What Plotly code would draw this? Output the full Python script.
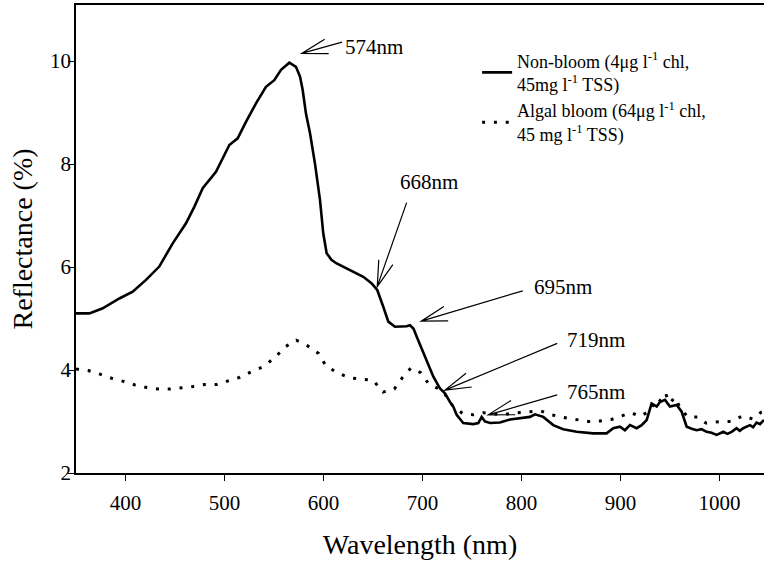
import numpy as np
import plotly.graph_objects as go

# ---------------- data ----------------
nonbloom_nm = [350, 363.5, 377, 393.8, 407.3, 420.7, 434.1, 447.7, 461.1, 469.5, 478, 491.4,
               504.9, 513.3, 521.7, 531.8, 541.9, 550.3, 557.1, 565.5, 572.2, 576.3, 579, 582.3,
               586.4, 591.4, 596.5, 599.8, 603.2, 608, 613.3, 626.8, 640.2, 648.7, 654.4, 660.4,
               665.5, 672.2, 684, 687.4, 691, 694.1, 697.5, 704.2, 711, 717.7, 722.7, 727.8,
               731.1, 734.5, 741.2, 751.3, 756.4, 759.8, 763.1, 768.2, 778.3, 788.4, 798.5, 808.6,
               813.6, 822, 832.1, 842.2, 855.7, 872.5, 886, 892.7, 899.5, 904.5, 909.6, 916.4,
               921.4, 926.5, 931.5, 936.6, 939.9, 945, 950, 956.8, 961.8, 966.9, 972, 977, 982,
               987, 992, 997.2, 1003.9, 1008, 1012.3, 1017.3, 1020.5, 1024, 1030.8, 1034, 1037.5,
               1041, 1045]
nonbloom_val = [5.10, 5.10, 5.20, 5.39, 5.52, 5.75, 6.01, 6.46, 6.85, 7.17, 7.53, 7.85,
                8.37, 8.50, 8.82, 9.18, 9.50, 9.63, 9.83, 9.97, 9.89, 9.70, 9.44, 8.98,
                8.60, 8.01, 7.30, 6.65, 6.27, 6.14, 6.07, 5.94, 5.81, 5.68, 5.55, 5.23,
                4.94, 4.84, 4.85, 4.87, 4.80, 4.65, 4.50, 4.19, 3.87, 3.64, 3.55, 3.38,
                3.29, 3.13, 2.97, 2.95, 2.97, 3.09, 3.00, 2.97, 2.98, 3.04, 3.06, 3.09,
                3.14, 3.09, 2.93, 2.85, 2.80, 2.77, 2.77, 2.87, 2.90, 2.83, 2.93, 2.87,
                2.93, 3.03, 3.35, 3.29, 3.38, 3.42, 3.29, 3.32, 3.19, 2.90, 2.86, 2.83, 2.85,
                2.80, 2.78, 2.74, 2.80, 2.76, 2.80, 2.87, 2.82, 2.87, 2.93, 2.89, 2.98,
                2.95, 3.03]

bloom_nm = [350, 362.4, 374.2, 386.1, 397.8, 409.6, 421.4, 433.1, 444.9, 456.8, 468.5, 480.3,
            492.1, 503.8, 515.7, 527.5, 538.6, 550.3, 561.4, 572.5, 584, 595.2, 602.5, 614.6,
            626.5, 638.2, 650.3, 660.1, 671.5, 680, 688.4, 698.2, 706.3, 716, 722, 731, 741,
            751.3, 761.4, 771.5, 781.7, 790.1, 800.2, 808.6, 818.7, 830.5, 842.2, 856.5, 867.6,
            879.4, 890.9, 901.3, 910.7, 919.9, 929, 933, 937, 942, 946, 950, 955, 960, 964,
            967.8, 977.9, 986.3, 1001.5, 1011.6, 1023.4, 1033.5, 1042, 1045]
bloom_val = [4.02, 3.99, 3.92, 3.84, 3.78, 3.71, 3.66, 3.63, 3.63, 3.65, 3.68, 3.72,
             3.72, 3.79, 3.86, 3.97, 4.06, 4.23, 4.45, 4.58, 4.47, 4.32, 4.08, 3.94,
             3.85, 3.82, 3.80, 3.57, 3.63, 3.86, 4.04, 3.95, 3.73, 3.64, 3.55, 3.29, 3.15,
             3.13, 3.17, 3.15, 3.13, 3.16, 3.17, 3.19, 3.21, 3.13, 3.08, 3.03, 3.00,
             3.01, 3.04, 3.11, 3.17, 3.10, 3.20, 3.32, 3.45, 3.38, 3.52, 3.36, 3.47, 3.28, 3.18,
             3.09, 3.09, 2.97, 3.00, 3.00, 3.11, 3.05, 3.18, 3.20]

x_ticks = [400, 500, 600, 700, 800, 900, 1000]
y_ticks = [2, 4, 6, 8, 10]

# annotation labels: text, arrow tip (nm, %), arrow tail offset (px), text anchor (nm, %)
labels = ["574nm", "668nm", "695nm", "719nm", "765nm"]
tip_nm = [578.0, 654.3, 698.7, 722.7, 766.4]
tip_val = [10.15, 5.62, 4.95, 3.61, 3.13]
tail_dx = [40.3, 29.4, 101.6, 112.3, 69.0]
tail_dy = [-11.3, -84.0, -30.3, -46.7, -20.0]
text_nm = [619.7, 675.3, 810.3, 843.9, 843.9]
text_val = [10.27, 7.65, 5.62, 4.58, 3.58]

FONT = '"Liberation Serif", "Times New Roman", Times, serif'

W, H = 764, 567
M = dict(l=76, r=0, t=5, b=94)
XR = [350, 1045]
YR = [2, 11.09]
# pixel -> data scale factors derived from the layout
nm_per_px = (XR[1] - XR[0]) / (W - M["l"] - M["r"])
val_per_px = (YR[1] - YR[0]) / (H - M["t"] - M["b"])

fig = go.Figure()
fig.add_trace(go.Scatter(
    x=nonbloom_nm, y=nonbloom_val, mode="lines",
    name="Non-bloom (4μg l<sup>-1</sup> chl,<br>45mg l<sup>-1</sup> TSS)",
    line=dict(color="black", width=2.6)))
fig.add_trace(go.Scatter(
    x=bloom_nm, y=bloom_val, mode="lines",
    name="Algal bloom (64μg l<sup>-1</sup> chl,<br>45 mg l<sup>-1</sup> TSS)",
    line=dict(color="black", width=3, dash="3px,8.8px")))

annotations = []
shapes = []
for lab, tx, ty, dx, dy, lx, ly in zip(labels, tip_nm, tip_val, tail_dx, tail_dy, text_nm, text_val):
    annotations.append(dict(x=lx, y=ly, xref="x", yref="y", text=lab, showarrow=False,
                            xanchor="left", yanchor="middle",
                            font=dict(family=FONT, size=21, color="black")))
    ang = np.arctan2(dy, dx)

    def to_data(px, py, tx=tx, ty=ty):
        return tx + px * nm_per_px, ty - py * val_per_px

    x0, y0 = to_data(dx, dy)
    pts = []
    for s in (+1, -1):
        a = ang + s * np.deg2rad(16)
        pts.append(to_data(27 * np.cos(a), 27 * np.sin(a)))
    path = (f"M{x0},{y0} L{tx},{ty} "
            f"M{pts[0][0]},{pts[0][1]} L{tx},{ty} L{pts[1][0]},{pts[1][1]}")
    shapes.append(dict(type="path", path=path, xref="x", yref="y",
                       line=dict(color="black", width=1.2)))

fig.update_layout(
    width=W, height=H,
    margin=M,
    paper_bgcolor="white", plot_bgcolor="white",
    font=dict(family=FONT, color="black"),
    showlegend=True,
    legend=dict(x=0.583, y=0.92, xanchor="left", yanchor="top",
                bgcolor="rgba(0,0,0,0)", font=dict(family=FONT, size=18, color="black"),
                tracegroupgap=0),
    annotations=annotations,
    shapes=shapes,
    xaxis=dict(range=XR, tickvals=x_ticks, ticks="outside", ticklen=6,
               tickwidth=1.2, tickcolor="black", showline=True, linecolor="black",
               linewidth=2, mirror=True, showgrid=False, zeroline=False,
               tickfont=dict(family=FONT, size=21), ticklabelstandoff=4,
               title=dict(text="Wavelength (nm)", font=dict(family=FONT, size=28), standoff=20)),
    yaxis=dict(range=YR, tickvals=y_ticks, ticks="outside", ticklen=6,
               tickwidth=1.2, tickcolor="black", showline=True, linecolor="black",
               linewidth=1.5, showgrid=False, zeroline=False,
               tickfont=dict(family=FONT, size=21), ticklabelstandoff=-7,
               title=dict(text="Reflectance (%)", font=dict(family=FONT, size=28), standoff=9)),
)

fig.write_html("out.html")
